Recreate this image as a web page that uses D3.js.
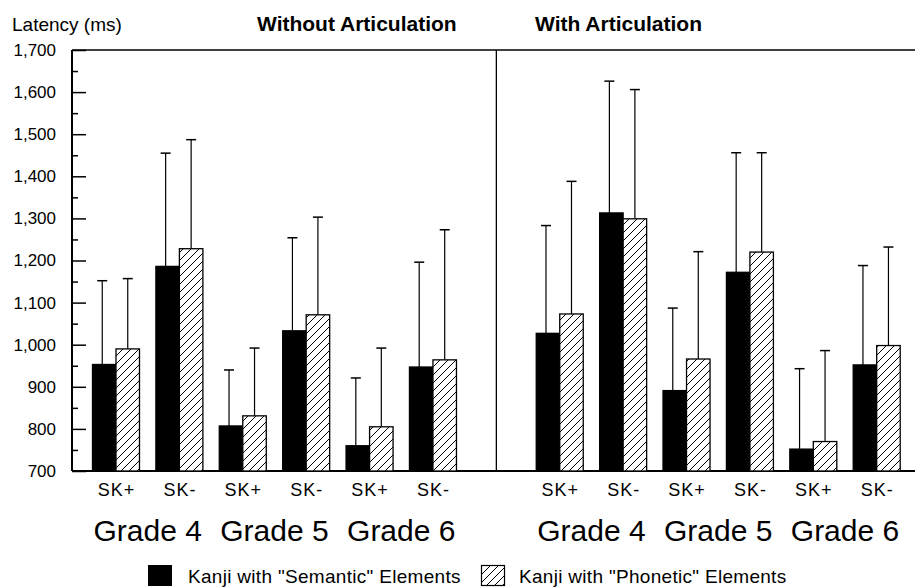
<!DOCTYPE html>
<html>
<head>
<meta charset="utf-8">
<script src="https://cdn.jsdelivr.net/npm/d3@7"></script>
<style>
  html, body { margin: 0; padding: 0; background: #fff; }
  svg { display: block; font-family: "Liberation Sans", Arial, Helvetica, sans-serif; }
</style>
</head>
<body>
<svg id="chart" width="915" height="587"></svg>
<script>
// ---------- data ----------
const panels = ["Without Articulation", "With Articulation"];
const grades = ["Grade 4", "Grade 5", "Grade 6"];
const conditions = ["SK+", "SK-"];
const seriesNames = ['Kanji with "Semantic" Elements', 'Kanji with "Phonetic" Elements'];
// order: panel -> grade -> condition
const semanticMeans = [953, 1186, 807, 1033, 760, 947, 1027, 1313, 891, 1172, 752, 952];
const semanticSD    = [199,  269, 133,  221, 161, 249,  256,  313, 196,  284, 191, 236];
const phoneticMeans = [990, 1228, 831, 1071, 805, 964, 1073, 1299, 966, 1220, 770, 998];
const phoneticSD    = [167,  259, 161,  232, 187, 309,  315,  307, 255,  236, 216, 234];
const yTicks = [700, 800, 900, 1000, 1100, 1200, 1300, 1400, 1500, 1600, 1700];
const yMinorTicks = [750, 850, 950, 1050, 1150, 1250, 1350, 1450, 1550, 1650];

// ---------- layout ----------
const svg = d3.select("#chart");
const axisX = 72, plotRight = 915, plotTop = 50, plotBottom = 471;
const barW = 23.5;

const y = d3.scaleLinear().domain([700, 1700]).range([plotBottom, plotTop]);

// 13 slots: 6 groups, an empty divider slot, 6 groups
const slots = d3.range(13);
const x = d3.scalePoint().domain(slots).range([116, 876.7]);

const groups = [];
panels.forEach((p, pi) => {
  grades.forEach((g, gi) => {
    conditions.forEach((c, ci) => {
      const idx = pi * 6 + gi * 2 + ci;
      groups.push({
        panel: pi, grade: g, cond: c, slot: pi * 7 + gi * 2 + ci, idx,
        vals: [
          { s: 0, mean: semanticMeans[idx], sd: semanticSD[idx] },
          { s: 1, mean: phoneticMeans[idx], sd: phoneticSD[idx] }
        ]
      });
    });
  });
});

// hatch pattern
const defs = svg.append("defs");
const pat = defs.append("pattern")
  .attr("id", "hatch").attr("patternUnits", "userSpaceOnUse")
  .attr("width", 8).attr("height", 8);
pat.append("rect").attr("width", 8).attr("height", 8).attr("fill", "#fff");
pat.append("path").attr("d", "M-2,2 L2,-2 M0,8 L8,0 M6,10 L10,6")
  .attr("stroke", "#000").attr("stroke-width", 1);

// ---------- axes ----------
const yAxis = d3.axisLeft(y).tickValues(yTicks).tickSize(-14).tickPadding(16)
  .tickFormat(d3.format(","));
const gy = svg.append("g").attr("transform", `translate(${axisX},0)`).call(yAxis);
gy.select(".domain").remove();
gy.selectAll(".tick line").attr("stroke", "#000").attr("stroke-width", 1.5);
gy.selectAll(".tick text").attr("font-size", 17).attr("fill", "#000")
  .attr("font-family", '"Liberation Sans", Arial, sans-serif');

const yMinor = d3.axisLeft(y).tickValues(yMinorTicks).tickSize(-6).tickFormat("");
const gym = svg.append("g").attr("transform", `translate(${axisX},0)`).call(yMinor);
gym.select(".domain").remove();
gym.selectAll(".tick line").attr("stroke", "#000").attr("stroke-width", 1.5);

// frame lines
svg.append("line").attr("x1", axisX).attr("x2", axisX).attr("y1", y(1700)).attr("y2", y(700))
  .attr("stroke", "#000").attr("stroke-width", 2);
svg.append("line").attr("x1", axisX).attr("x2", plotRight).attr("y1", y(1700)).attr("y2", y(1700))
  .attr("stroke", "#000").attr("stroke-width", 1.5);
svg.append("line").attr("x1", axisX).attr("x2", plotRight).attr("y1", y(700)).attr("y2", y(700))
  .attr("stroke", "#000").attr("stroke-width", 2);
svg.append("line").attr("x1", x(6)).attr("x2", x(6)).attr("y1", y(1700)).attr("y2", y(700))
  .attr("stroke", "#000").attr("stroke-width", 1.3);

// ---------- bars ----------
const gBars = svg.append("g");
groups.forEach(gr => {
  gr.vals.forEach(v => {
    const x0 = x(gr.slot) + (v.s === 0 ? -barW : 0);
    const cx = x0 + barW / 2 + (v.s === 0 ? -2 : 0);
    gBars.append("line").attr("x1", cx).attr("x2", cx)
      .attr("y1", y(v.mean)).attr("y2", y(v.mean + v.sd))
      .attr("stroke", "#000").attr("stroke-width", 1.2);
    gBars.append("line").attr("x1", cx - 5).attr("x2", cx + 5)
      .attr("y1", y(v.mean + v.sd)).attr("y2", y(v.mean + v.sd))
      .attr("stroke", "#000").attr("stroke-width", 1.5);
    gBars.append("rect")
      .attr("x", x0).attr("width", barW)
      .attr("y", y(v.mean)).attr("height", y(700) - y(v.mean))
      .attr("fill", v.s === 0 ? "#000" : "url(#hatch)")
      .attr("stroke", "#000").attr("stroke-width", 1.3);
  });
});

// ---------- x labels ----------
groups.forEach(gr => {
  svg.append("text").attr("x", x(gr.slot) + 0.5).attr("y", 496)
    .attr("text-anchor", "middle").attr("font-size", 18).attr("letter-spacing", 1)
    .text(gr.cond);
});
panels.forEach((p, pi) => {
  grades.forEach((g, gi) => {
    const s0 = pi * 7 + gi * 2;
    svg.append("text").attr("x", (x(s0) + x(s0 + 1)) / 2).attr("y", 541)
      .attr("text-anchor", "middle").attr("font-size", 30).text(g);
  });
});

// ---------- titles ----------
svg.append("text").attr("x", 12).attr("y", 31).attr("font-size", 19).text("Latency (ms)");
svg.append("text").attr("x", 257).attr("y", 31).attr("font-size", 21).attr("font-weight", "bold")
  .text(panels[0]);
svg.append("text").attr("x", 535).attr("y", 31).attr("font-size", 21).attr("font-weight", "bold")
  .text(panels[1]);

// ---------- legend ----------
const leg = svg.append("g");
leg.append("rect").attr("x", 148).attr("y", 565).attr("width", 24).attr("height", 21).attr("fill", "#000");
leg.append("text").attr("x", 188).attr("y", 583).attr("font-size", 19).attr("letter-spacing", 0.3)
  .text(seriesNames[0]);
leg.append("rect").attr("x", 481.5).attr("y", 565.5).attr("width", 23).attr("height", 20)
  .attr("fill", "url(#hatch)").attr("stroke", "#000").attr("stroke-width", 1.2);
leg.append("text").attr("x", 519).attr("y", 583).attr("font-size", 19).attr("letter-spacing", 0.3)
  .text(seriesNames[1]);
</script>
</body>
</html>
